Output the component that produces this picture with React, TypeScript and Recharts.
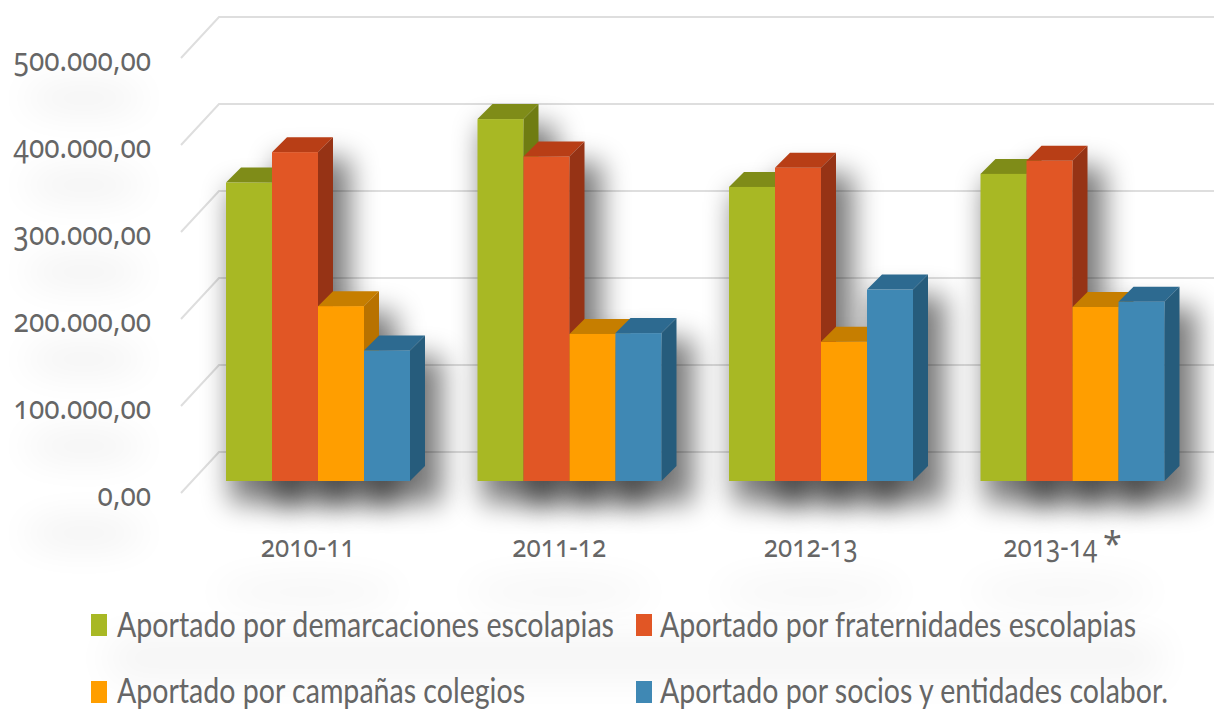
import { BarChart, Bar, XAxis, YAxis, CartesianGrid, Legend } from "recharts";

const seasons = ["2010-11", "2011-12", "2012-13", "2013-14 *"];
const demarcaciones = [343000, 416000, 338000, 353000];
const fraternidades = [378000, 373000, 360000, 368000];
const campanas = [201000, 169000, 160000, 200000];
const socios = [150000, 170000, 220000, 206000];
const yTicks = [0, 100000, 200000, 300000, 400000, 500000];

const data = seasons.map((season, i) => ({
  season,
  demarcaciones: demarcaciones[i],
  fraternidades: fraternidades[i],
  campanas: campanas[i],
  socios: socios[i],
}));

const series = [
  { key: "demarcaciones", name: "Aportado por demarcaciones escolapias", fill: "#a8b824", top: "#7f8c18", side: "#6f7c12" },
  { key: "fraternidades", name: "Aportado por fraternidades escolapias", fill: "#e15625", top: "#b83e16", side: "#963315" },
  { key: "campanas", name: "Aportado por campañas colegios", fill: "#ff9e00", top: "#c67e00", side: "#b87200" },
  { key: "socios", name: "Aportado por socios y entidades colabor.", fill: "#3f88b4", top: "#2d6a90", side: "#265c7c" },
];

const FONT = "'Noto Sans', Lato, sans-serif";
const LEGEND_FONT = "Lato, sans-serif";
const TEXT = "#666666";
const DX = 15;
const DY = 15;

const Bar3D = ({ x, y, width, height, fill }: any) => {
  const s = series.find((e) => e.fill === fill)!;
  return (
    <g>
      <path d={`M${x},${y}l${DX},${-DY}h${width}l${-DX},${DY}z`} fill={s.top} />
      <path d={`M${x + width},${y}l${DX},${-DY}v${height}l${-DX},${DY}z`} fill={s.side} />
      <rect x={x} y={y} width={width} height={height} fill={fill} />
    </g>
  );
};

const BarShadow = ({ x, y, width, height }: any) => (
  <rect x={x + 4} y={y + 6} width={width + 28} height={height + 16} fill="#000" opacity={0.52} filter="url(#softShadow)" />
);

const WallLine = ({ x2, y1 }: any) => {
  const backY = y1 - 29;
  return <path d={`M181,${backY + 41}L219,${backY}H${x2 + 16}`} fill="none" stroke="#dedede" strokeWidth={2} />;
};

const YTick = ({ x, y, payload }: any) => {
  const label = payload.value.toLocaleString("de-DE", { minimumFractionDigits: 2 });
  return (
    <g>
      <ellipse cx={x - 100} cy={y + 52} rx={62} ry={16} fill="#000" opacity={0.05} filter="url(#softBlob)" />
      <g transform={`translate(${x - 33},${y + 25}) scale(0.835,1)`}>
        <text textAnchor="end" fontFamily={FONT} fontSize={33.5} fill={TEXT} style={{ fontFeatureSettings: "'onum'" }}>
          {label}
        </text>
      </g>
    </g>
  );
};

const XTick = ({ x, payload }: any) => {
  const [label, mark] = payload.value.split(" ");
  return (
    <g>
      <ellipse cx={x - 10} cy={592} rx={95} ry={16} fill="#000" opacity={0.035} filter="url(#softBlob)" />
      <g transform={`translate(${mark ? x - 22 : x - 10},557) scale(0.84,1)`}>
        <text textAnchor="middle" fontFamily={FONT} fontSize={31} fill={TEXT} style={{ fontFeatureSettings: "'onum'" }}>
          {label}
        </text>
      </g>
      {mark ? (
        <text x={x + 40} y={556} textAnchor="middle" fontFamily={FONT} fontSize={34} fill={TEXT}>
          {mark}
        </text>
      ) : null}
    </g>
  );
};

const legendSlots = [
  { x: 91, y: 614, textX: 117, base: 637, len: 497 },
  { x: 636, y: 614, textX: 660, base: 637, len: 476 },
  { x: 91, y: 681, textX: 117, base: 703, len: 408 },
  { x: 636, y: 681, textX: 660, base: 703, len: 508 },
];

const ChartLegend = ({ payload }: any) => (
  <svg width={1214} height={713} style={{ position: "absolute", left: 0, top: 0, pointerEvents: "none" }}>
    <defs>
      <filter id="softLegend" x="-10%" y="-300%" width="120%" height="700%">
        <feGaussianBlur stdDeviation="20" />
      </filter>
    </defs>
    <rect x={110} y={640} width={1050} height={36} fill="#000" opacity={0.05} filter="url(#softLegend)" />
    {(payload || []).filter((p: any) => p.type !== "none").map((p: any, i: number) => {
      const slot = legendSlots[i];
      return (
        <g key={p.value}>
          <rect x={slot.x} y={slot.y} width={16} height={22} fill={p.color} />
          <text
            x={slot.textX}
            y={slot.base}
            fontFamily={LEGEND_FONT}
            fontSize={35}
            fill={TEXT}
            textLength={slot.len}
            lengthAdjust="spacingAndGlyphs"
          >
            {p.value}
          </text>
        </g>
      );
    })}
  </svg>
);

export default function App() {
  return (
    <div style={{ position: "absolute", left: 0, top: 0, width: 1214, height: 713, overflow: "hidden", background: "#fff" }}>
      <BarChart
        width={1214}
        height={713}
        data={data}
        margin={{ top: 46, right: 16, bottom: 0, left: 0 }}
        barSize={46}
        barGap={0}
      >
        <defs>
          <filter id="softShadow" x="-80%" y="-40%" width="260%" height="180%">
            <feGaussianBlur stdDeviation="14" />
          </filter>
          <filter id="softBlob" x="-60%" y="-300%" width="220%" height="700%">
            <feGaussianBlur stdDeviation="18" />
          </filter>
        </defs>
        <CartesianGrid vertical={false} horizontal={<WallLine />} horizontalValues={yTicks} />
        <XAxis dataKey="season" height={232} axisLine={false} tickLine={false} tick={<XTick />} interval={0} />
        <XAxis dataKey="season" xAxisId="shadow" hide />
        <YAxis
          width={192}
          domain={[0, 500000]}
          ticks={yTicks}
          axisLine={false}
          tickLine={false}
          tick={<YTick />}
        />
        {series.map((s) => (
          <Bar
            key={`${s.key}-shadow`}
            dataKey={s.key}
            xAxisId="shadow"
            legendType="none"
            shape={<BarShadow />}
            isAnimationActive={false}
          />
        ))}
        {series.map((s) => (
          <Bar key={s.key} dataKey={s.key} name={s.name} fill={s.fill} shape={<Bar3D />} isAnimationActive={false} />
        ))}
        <Legend
          content={<ChartLegend />}
          itemSorter={null}
          wrapperStyle={{ position: "absolute", left: 0, top: 0, width: 0, height: 0 }}
        />
      </BarChart>
    </div>
  );
}
